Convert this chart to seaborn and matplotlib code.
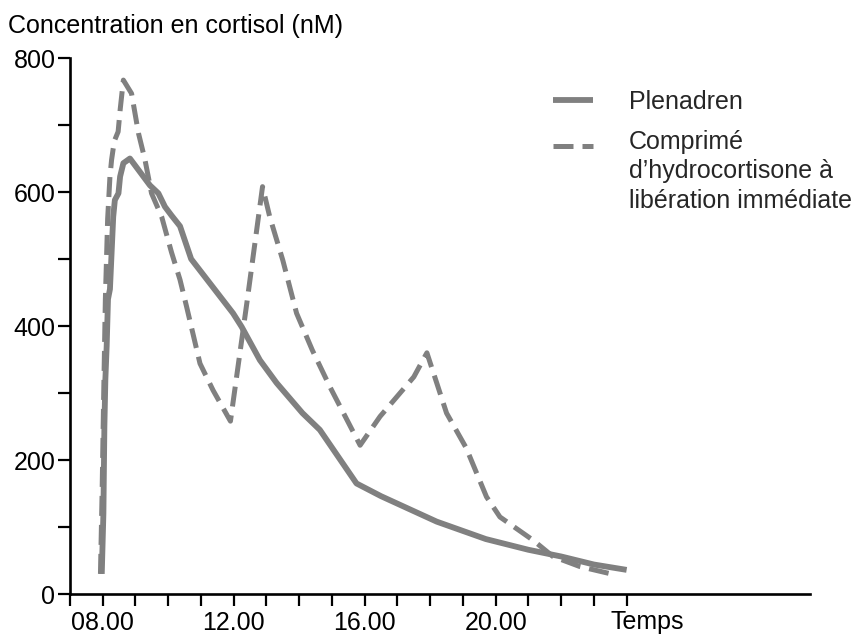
import matplotlib
matplotlib.use("Agg")
import matplotlib.pyplot as plt
import seaborn as sns
import pandas as pd

# Plenadren (solid)
plen_h = [7.97, 8.02, 8.05, 8.08, 8.12, 8.16, 8.22, 8.32, 8.37, 8.48, 8.53, 8.63, 8.83,
          9.09, 9.44, 9.7, 9.9, 10.1, 10.36, 10.7, 11.98, 12.24, 12.8, 13.31, 14.1,
          14.63, 15.75, 16.5, 18.2, 19.7, 21.0, 22.0, 23.0, 24.0]
plen_v = [30, 120, 250, 320, 370, 440, 455, 563, 588, 598, 623, 643, 650,
          633, 610, 598, 578, 565, 549, 500, 419, 399, 349, 315, 270,
          245, 165, 146, 108, 82, 66, 56, 44, 36]

# Comprimé d'hydrocortisone à libération immédiate (dashed)
hc_h = [7.93, 7.98, 8.03, 8.08, 8.15, 8.22, 8.27, 8.32, 8.37, 8.47, 8.53, 8.63,
        8.88, 9.09, 9.29, 9.49, 9.8, 10.1, 10.36, 10.56, 10.97, 11.37, 11.9,
        12.4, 12.88, 13.1, 13.5, 13.92, 14.4, 14.94, 15.86, 16.47, 17.5, 17.9,
        18.5, 19.1, 19.72, 20.13, 21.15, 21.75, 22.57, 23.7]
hc_v = [30, 150, 300, 440, 560, 623, 648, 665, 678, 690, 722, 767,
        747, 688, 648, 598, 563, 510, 469, 429, 344, 304, 258,
        434, 608, 563, 498, 419, 364, 309, 222, 265, 324, 360,
        270, 218, 145, 115, 80, 56, 41, 28]

series_names = ["Plenadren", "Comprimé\nd\u2019hydrocortisone à\nlibération immédiate"]
xtick_pos = [8, 12, 16, 20]
xtick_labels = ["08.00", "12.00", "16.00", "20.00"]
ytick_labels = [0, 200, 400, 600, 800]

sns.set_theme(style="ticks")
plt.rcParams["font.family"] = ["Liberation Sans", "DejaVu Sans"]

FS = 18
GRAY = "#808080"

df_p = pd.DataFrame({"h": plen_h, "v": plen_v})
df_h = pd.DataFrame({"h": hc_h, "v": hc_v})

fig = plt.figure(figsize=(8.59, 6.37), dpi=100)
ax = fig.add_axes([70 / 859, 1 - 594 / 637, 740 / 859, 536 / 637])

sns.lineplot(data=df_p, x="h", y="v", ax=ax, color=GRAY, linewidth=4.2,
             sort=False, estimator=None, label=series_names[0])
sns.lineplot(data=df_h, x="h", y="v", ax=ax, color=GRAY, linewidth=3.6,
             sort=False, estimator=None, label=series_names[1],
             dashes=False)
ax.lines[1].set_dashes([4.0, 1.8])
ax.lines[0].set_solid_capstyle("butt")

ax.set_xlim(7, 29.6)
ax.set_ylim(0, 800)
ax.set_xticks(range(7, 25))
ax.set_xticklabels([xtick_labels[xtick_pos.index(t)] if t in xtick_pos else "" for t in range(7, 25)])
ax.set_yticks(range(0, 801, 100))
ax.set_yticklabels([str(t) if t in ytick_labels else "" for t in range(0, 801, 100)])
ax.set_xlabel("")
ax.set_ylabel("")

for s in ["top", "right"]:
    ax.spines[s].set_visible(False)
for s in ["left", "bottom"]:
    ax.spines[s].set_linewidth(1.9)
    ax.spines[s].set_color("black")
ax.tick_params(axis="both", direction="out", length=8.5, width=1.6, colors="black",
               labelsize=FS, labelcolor="black")
ax.tick_params(axis="x", pad=3.5)
ax.tick_params(axis="y", pad=2)

ax.text(23.5, -0.03, "Temps", transform=ax.get_xaxis_transform(),
        ha="left", va="top", fontsize=FS, color="black")

fig.text(8 / 859, 1 - 26 / 637, "Concentration en cortisol (nM)", ha="left",
         va="center", fontsize=FS, color="black")

leg = ax.legend(loc="upper left", bbox_to_anchor=(553 / 859, 1 - 90 / 637),
                bbox_transform=fig.transFigure, frameon=False, fontsize=FS,
                handlelength=1.6, handletextpad=1.45, labelspacing=0.62,
                borderpad=0, borderaxespad=0)
for t in leg.get_texts():
    t.set_linespacing(1.3)
# place the dashed handle next to the first line of its label, as in the reference
hl = leg.get_lines()[1]
hl.set_ydata([y + 19 for y in hl.get_ydata()])

fig.savefig("out.png", dpi=100, facecolor="white")
